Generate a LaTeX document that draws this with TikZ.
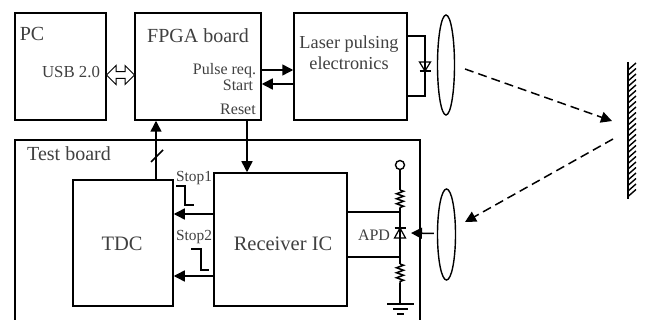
\documentclass[tikz,border=0pt]{standalone}
\usepackage{fontspec}
\setmainfont{Liberation Serif}
\usetikzlibrary{arrows.meta}
\usetikzlibrary{shapes.arrows,shapes.geometric}
\usetikzlibrary{decorations.pathmorphing}
\tikzset{
 block/.style={draw=black, line width=1.5pt, rectangle, inner sep=0pt},
 lens/.style={draw=black, line width=1.4pt, ellipse, inner sep=0pt},
 txt/.style={text=black!75, inner sep=0pt, align=center},
 wire/.style={black, line width=1.5pt},
 beam/.style={black, line width=1.5pt, dash pattern=on 9pt off 5pt},
 resistor/.style={decorate, decoration={zigzag, amplitude=3.5pt, segment length=5pt}},
}
\begin{document}
\begin{tikzpicture} [x=1pt, y=-1pt, >={Triangle[length=11pt,width=11pt]}]
\useasboundingbox (0,0) rectangle (645,320);
\node[block, minimum width=91pt, minimum height=107pt] (pc) at (60.5,66.5) {};
\node[block, minimum width=126pt, minimum height=107pt] (fpga) at (198,66.5) {};
\node[block, minimum width=113pt, minimum height=107pt] (laser) at (350.5,66.5) {};
\node[block, minimum width=100pt, minimum height=126pt] (tdc) at (123,243) {};
\node[block, minimum width=133pt, minimum height=133pt] (rx) at (280.5,239.5) {};
\node[lens, minimum width=17pt, minimum height=100pt] (lensA) at (446,65) {};
\node[lens, minimum width=18pt, minimum height=91pt] (lensB) at (446.5,234.5) {};
\node[draw=black, line width=1pt, double arrow, fill=white, minimum height=28pt, minimum width=19pt,
 double arrow head extend=3.5pt, double arrow head indent=0pt, inner sep=1.5pt] (usb) at (120.5,75) {};
% test board runs off the bottom
\draw[wire] (15,321) -- (15,140) -- (420,140) -- (420,321);
% labels
\node[txt, font=\fontsize{20}{20}\selectfont] (pclabel) at (32,34) {PC};
\node[txt, font=\fontsize{20}{20}\selectfont] (fpgalabel) at (198,36) {FPGA board};
\node[txt, font=\fontsize{16.8}{16.8}\selectfont] (usblabel) at (71,72) {USB 2.0};
\node[txt, font=\fontsize{16}{16}\selectfont] (pulselabel) at (224.5,71) {Pulse req.};
\node[txt, font=\fontsize{16}{16}\selectfont] (startlabel) at (238,85) {Start};
\node[txt, font=\fontsize{16}{16}\selectfont] (resetlabel) at (238,109) {Reset};
\node[txt, font=\fontsize{18.3}{21}\selectfont] (laserlabel) at (349,53) {Laser pulsing\\electronics};
\node[txt, font=\fontsize{20}{20}\selectfont] (testlabel) at (69,154) {Test board};
\node[txt, font=\fontsize{20.5}{20}\selectfont] (tdclabel) at (122,244) {TDC};
\node[txt, font=\fontsize{20.5}{20}\selectfont] (rxlabel) at (283,244) {Receiver IC};
\node[txt, font=\fontsize{15.4}{15}\selectfont] (stopA) at (194,178) {Stop1};
\node[txt, font=\fontsize{15.4}{15}\selectfont] (stopB) at (194,237) {Stop2};
\node[txt, font=\fontsize{16}{16}\selectfont] (apdlabel) at (374,235) {APD};
% connectors
\draw[wire, ->] (fpga.east |- 0,70) -- (laser.west |- 0,70);
\draw[wire, ->] (laser.west |- 0,84) -- (fpga.east |- 0,84);
\draw[wire, ->] (tdc.north -| 156,0) -- (fpga.south -| 156,0);
\draw[wire] (151,162) -- (163,150);
\draw[wire, ->] (fpga.south -| 247,0) -- (rx.north -| 247,0);
\draw[wire, ->] (rx.west |- 0,214) -- (tdc.east |- 0,214);
\draw[wire, ->] (rx.west |- 0,276) -- (tdc.east |- 0,276);
% stop pulses
\draw[black, line width=1.2pt] (176,186) -- (185,186) -- (185,205) -- (194,205);
\draw[black, line width=1.2pt] (191,249) -- (201,249) -- (201,270) -- (209,270);
% laser diode
\draw[wire] (laser.east |- 0,36) -- (425,36) -- (425,96) -- (laser.east |- 0,96);
\draw[black, line width=1.2pt] (419.5,62) -- (430.5,62) -- (425,71) -- cycle;
\draw[black, line width=1.2pt] (419.5,71) -- (430.5,71);
% apd branch
\node[draw=black, line width=1.4pt, circle, minimum size=9pt, inner sep=0pt] (bias) at (400,165) {};
\coordinate (gnd) at (400,304);
\draw[wire] (bias) -- (400,190);
\draw[wire, resistor] (400,190) -- (400,208);
\draw[wire] (400,208) -- (400,264);
\draw[wire, resistor] (400,264) -- (400,283);
\draw[wire] (400,283) -- (gnd);
\draw[wire] (rx.east |- 0,212) -- (400,212);
\draw[wire] (rx.east |- 0,257) -- (400,257);
\draw[black, line width=1.2pt] (394.5,238) -- (405.5,238) -- (400,228) -- cycle;
\draw[black, line width=1.2pt] (394.5,228) -- (405.5,228);
\draw[black, line width=1.4pt] (387,304) -- (414,304);
\draw[black, line width=1.4pt] (393,309) -- (408,309);
\draw[black, line width=1.4pt] (397,314) -- (404,314);
\draw[wire, ->] (lensB.west) ++(-3,-1) -- (411,233);
% beams and mirror
\coordinate (spot) at (612,121);
\coordinate (spotB) at (613,139);
\draw[beam, ->] (465,69) -- (spot);
\draw[beam, ->] (spotB) -- (465,222);
\draw[black, line width=1.5pt] (628,62) -- (628,199);
\foreach \y in {70, 75.5, ..., 200} {
 \draw[black, line width=1.4pt] (628,\y) --++(8,-7);
}
\end{tikzpicture}
\end{document}
